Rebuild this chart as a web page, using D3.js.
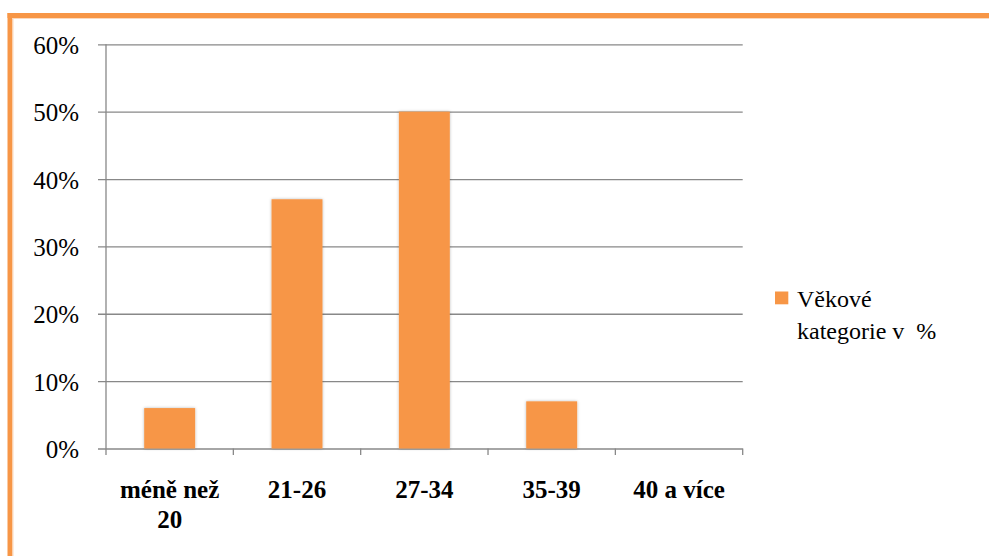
<!DOCTYPE html>
<html>
<head>
<meta charset="utf-8">
<script src="https://cdn.jsdelivr.net/npm/d3@7"></script>
<style>
  html, body { margin: 0; padding: 0; background: #fff; }
  svg { display: block; }
</style>
</head>
<body>
<svg id="chart" width="989" height="556" font-family="Liberation Serif"></svg>
<script>
// Age categories and their share (fraction of respondents)
const categories = ["méně než 20", "21-26", "27-34", "35-39", "40 a více"];
const categoryLines = [["méně než", "20"], ["21-26"], ["27-34"], ["35-39"], ["40 a více"]];
const shares = [0.06, 0.37, 0.50, 0.07, 0.00];
const yTicks = [0, 0.1, 0.2, 0.3, 0.4, 0.5, 0.6];
const seriesName = ["Věkové", "kategorie v  %"];

const FONT = "Liberation Serif";
const orange = "#F79646";
const gridColor = "#888888";

const svg = d3.select("#chart");

// soft shadow around the bars
const defs = svg.append("defs");
const f = defs.append("filter").attr("id", "shadow")
  .attr("x", "-20%").attr("y", "-20%").attr("width", "140%").attr("height", "140%");
f.append("feDropShadow").attr("dx", 0).attr("dy", 0).attr("stdDeviation", 1.6)
  .attr("flood-color", "#000").attr("flood-opacity", 0.28);

// frame: orange top and left edges
svg.append("rect").attr("x", 7.5).attr("y", 13).attr("width", 989 - 7.5).attr("height", 5).attr("fill", orange);
svg.append("rect").attr("x", 7.5).attr("y", 13).attr("width", 5).attr("height", 556 - 13).attr("fill", orange);
svg.append("line").attr("x1", 12.5).attr("x2", 989).attr("y1", 18.5).attr("y2", 18.5)
  .attr("stroke", "#FBD9BD").attr("stroke-width", 1);
svg.append("line").attr("x1", 13).attr("x2", 13).attr("y1", 18).attr("y2", 556)
  .attr("stroke", "#FBD9BD").attr("stroke-width", 1);

const plot = { left: 106, right: 742.7, top: 44.3, bottom: 448.5 };

const x = d3.scaleBand().domain(categories)
  .range([plot.left, plot.right]).paddingInner(0.6).paddingOuter(0.3);
const step = (plot.right - plot.left) / categories.length;

const y = d3.scaleLinear().domain([0, 0.6]).range([plot.bottom, plot.top]);

// horizontal gridlines with outward ticks
const yAxis = d3.axisLeft(y).tickValues(yTicks)
  .tickSize(-(plot.right - plot.left)).tickFormat(d3.format(".0%"));
const gy = svg.append("g").attr("transform", `translate(${plot.left},0)`).call(yAxis);
gy.attr("font-family", FONT).attr("font-size", 25);
gy.select(".domain").remove();
gy.selectAll(".tick line").attr("x1", -8).attr("stroke", gridColor).attr("stroke-width", 1.3);
gy.selectAll(".tick text").attr("x", -27).attr("dy", "0.36em")
  .style("font-family", FONT).style("font-size", "25px").attr("fill", "#000");

// vertical axis line
svg.append("line").attr("x1", plot.left).attr("x2", plot.left)
  .attr("y1", plot.top).attr("y2", plot.bottom + 6.5)
  .attr("stroke", gridColor).attr("stroke-width", 1.3);

// category boundary ticks below the baseline
const boundaries = d3.range(1, categories.length + 1).map(i => plot.left + i * step);
svg.append("g").selectAll("line").data(boundaries).join("line")
  .attr("x1", d => d).attr("x2", d => d)
  .attr("y1", plot.bottom).attr("y2", plot.bottom + 6.5)
  .attr("stroke", gridColor).attr("stroke-width", 1.3);

// bars
svg.append("g").selectAll("rect").data(categories.filter((c, i) => shares[i] > 0)).join("rect")
  .attr("x", d => x(d))
  .attr("y", d => y(shares[categories.indexOf(d)]))
  .attr("width", x.bandwidth())
  .attr("height", d => plot.bottom - y(shares[categories.indexOf(d)]))
  .attr("fill", orange)
  .attr("filter", "url(#shadow)");

// category labels
const labels = svg.append("g").selectAll("text").data(categories).join("text")
  .attr("x", d => x(d) + x.bandwidth() / 2)
  .attr("y", 498.3)
  .attr("text-anchor", "middle")
  .style("font-family", FONT).style("font-size", "25px").style("font-weight", "bold");
labels.each(function(d, i) {
  d3.select(this).selectAll("tspan").data(categoryLines[i]).join("tspan")
    .attr("x", x(d) + x.bandwidth() / 2)
    .attr("dy", (t, j) => j === 0 ? 0 : 30)
    .text(t => t);
});

// legend
const lg = svg.append("g");
lg.append("rect").attr("x", 775).attr("y", 291.5).attr("width", 13.3).attr("height", 12.8).attr("fill", orange);
lg.append("text").attr("x", 797).attr("y", 306.7)
  .style("font-family", FONT).style("font-size", "24px").style("white-space", "pre")
  .selectAll("tspan").data(seriesName).join("tspan")
  .attr("x", 797).attr("dy", (t, j) => j === 0 ? 0 : 32.5)
  .text(t => t);
</script>
</body>
</html>
